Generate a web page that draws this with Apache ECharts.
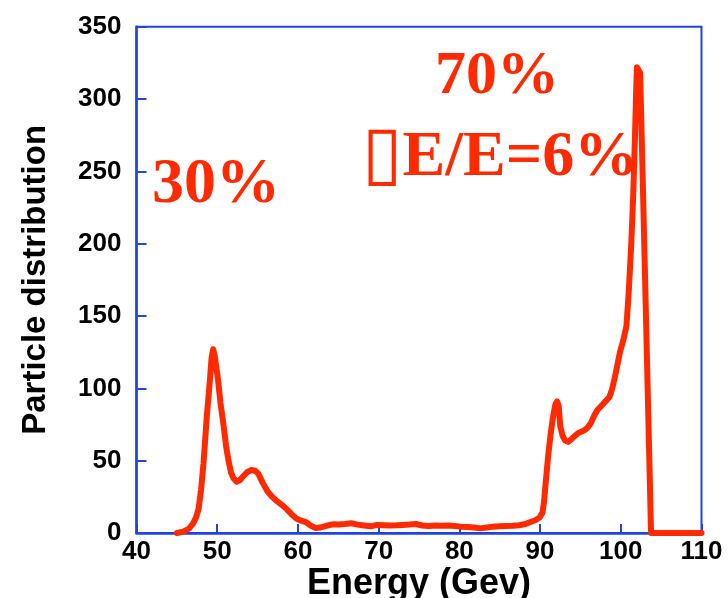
<!DOCTYPE html>
<html>
<head>
<meta charset="utf-8">
<script src="https://cdn.jsdelivr.net/npm/echarts@6/dist/echarts.min.js"></script>
<style>html,body{margin:0;padding:0;background:#fff}#c{width:728px;height:598px}</style>
</head>
<body>
<div id="c"></div>
<script>
var energy = [45.0,45.8,46.5,47.0,47.4,47.7,48.0,48.3,48.7,49.1,49.3,49.5,49.7,50.1,50.4,50.75,51.1,51.4,51.7,52.0,52.4,52.8,53.2,53.7,54.2,54.7,55.1,55.6,56.2,56.8,57.4,58.0,58.6,59.2,59.8,60.4,61.0,61.6,62.2,62.8,63.5,64.3,65.0,65.8,66.6,67.4,68.2,69.0,69.8,70.6,71.4,72.2,73.0,73.8,74.6,75.4,76.2,77.0,77.8,78.6,79.4,80.2,81.0,81.8,82.6,83.4,84.2,85.0,85.8,86.6,87.4,88.2,88.8,89.4,89.9,90.3,90.5,90.7,91.0,91.3,91.6,91.9,92.1,92.3,92.5,92.8,93.1,93.5,93.9,94.3,94.7,95.1,95.5,95.9,96.3,96.7,97.1,97.6,98.1,98.6,98.9,99.2,99.5,99.9,100.3,100.7,101.0,101.3,101.55,101.75,101.9,102.0,102.2,102.4,102.7,103.0,103.3,103.6,103.75,106.0,110.0];
var counts = [0,1,3,6.5,11,17,30,48,80,106,121,127,122,106,90,76,60,50,42,38,35.5,36.5,39,42,43.5,43,41,35,29,25,22,19.5,16.5,13,10,8.5,7.5,5,3.5,3.8,5,6,5.8,6.2,6.7,5.8,5.2,4.6,5.6,5.4,5.2,5.3,5.6,5.8,6.2,5.2,4.8,5.2,5.0,5.2,4.8,4.4,4.2,3.8,3.2,3.8,4.4,4.6,4.8,5.0,5.4,6.2,7.6,8.8,10.5,14,22,35,53,68,80,89,91,88,74,67,64,63,65,67,69,70,71,73,76,81,85,88,91,94,99,106,114,125,133,143,168,200,235,272,305,322,323,318,249,178,107,36,0,0,0];
var xTicks = [40,50,60,70,80,90,100,110];
var yTicks = [0,50,100,150,200,250,300,350];
var annotations = ['30%', '70%', '\u25AF', 'E/E=6%'];

var pts = energy.map(function(e,i){return [e, counts[i]];});
var blue = '#2142e6';
var red = '#ff2a00';
var serif = '"Liberation Serif"';
var chart = echarts.init(document.getElementById('c'));
chart.setOption({
  animation: false,
  backgroundColor: '#fff',
  grid: {left: 136.5, right: 26.5, top: 26.7, bottom: 65, outerBoundsMode: 'none', containLabel: false, show: true, borderColor: blue, borderWidth: 2, backgroundColor: 'transparent'},
  xAxis: {
    type: 'value', min: xTicks[0], max: xTicks[xTicks.length-1], interval: 10,
    name: 'Energy (Gev)', nameLocation: 'middle', nameGap: 33, nameMoveOverlap: false,
    nameTextStyle: {fontFamily: 'Liberation Sans', fontWeight: 'bold', fontSize: 36, color: '#000'},
    axisLine: {lineStyle: {color: blue, width: 2.5}},
    axisTick: {inside: true, length: 9, lineStyle: {color: blue, width: 2}},
    axisLabel: {margin: 6, fontFamily: 'Liberation Sans', fontWeight: 'bold', fontSize: 26, color: '#000'},
    splitLine: {show: false}
  },
  yAxis: {
    type: 'value', min: yTicks[0], max: yTicks[yTicks.length-1], interval: 50,
    name: 'Particle distribution', nameLocation: 'middle', nameGap: 84, nameMoveOverlap: false,
    nameTextStyle: {fontFamily: 'Liberation Sans', fontWeight: 'bold', fontSize: 33, color: '#000'},
    axisLine: {lineStyle: {color: blue, width: 2.5}},
    axisTick: {inside: true, length: 10, lineStyle: {color: blue, width: 2}},
    axisLabel: {margin: 15, fontFamily: 'Liberation Sans', fontWeight: 'bold', fontSize: 26, color: '#000'},
    splitLine: {show: false}
  },
  series: [{
    type: 'line', data: pts, showSymbol: false, symbol: 'none', smooth: false,
    lineStyle: {color: red, width: 6, join: 'round', cap: 'round'}
  }],
  graphic: [
    {type: 'text', x: 216, y: 185, style: {text: annotations[0], fill: red, font: 'bold 64px ' + serif, align: 'center', verticalAlign: 'middle'}},
    {type: 'text', x: 497, y: 77, style: {text: annotations[1], fill: red, font: 'bold 62px ' + serif, align: 'center', verticalAlign: 'middle'}},
    {type: 'text', x: 500, y: 158, style: {
      text: '{b|' + annotations[2] + '}{t|' + annotations[3] + '}', fill: red, align: 'center', verticalAlign: 'middle',
      rich: {
        b: {fontFamily: 'DejaVu Sans', fontSize: 74, fontWeight: 'normal', fill: red, verticalAlign: 'middle'},
        t: {fontFamily: 'Liberation Serif', fontSize: 64, fontWeight: 'bold', fill: red, verticalAlign: 'middle'}
      }
    }}
  ]
});
</script>
</body>
</html>
